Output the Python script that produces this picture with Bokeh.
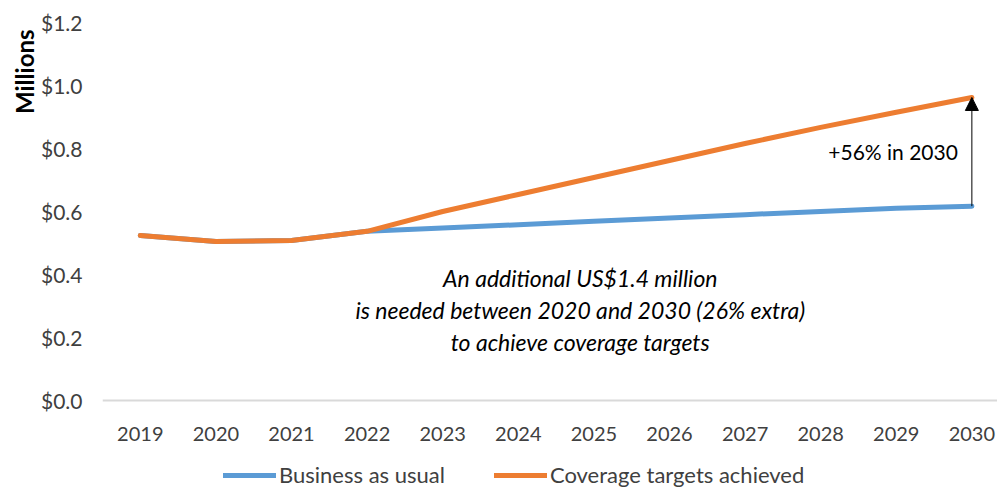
import math
from bokeh.plotting import figure
from bokeh.models import (ColumnDataSource, Legend, LegendItem, Label, Arrow,
                          NormalHead, FixedTicker, Range1d, Title, Span)
from bokeh.core.properties import value
from bokeh.embed import file_html
from bokeh.resources import INLINE

years = [2019, 2020, 2021, 2022, 2023, 2024, 2025, 2026, 2027, 2028, 2029, 2030]
business_as_usual = [0.524, 0.505, 0.508, 0.537, 0.548, 0.558, 0.569, 0.579, 0.590, 0.600, 0.610, 0.617]
coverage_targets = [0.524, 0.505, 0.508, 0.537, 0.600, 0.654, 0.708, 0.762, 0.816, 0.867, 0.915, 0.962]
year_labels = [str(y) for y in years]
y_ticks = [0.0, 0.2, 0.4, 0.6, 0.8, 1.0, 1.2]
y_tick_labels = ["$0.0", "$0.2", "$0.4", "$0.6", "$0.8", "$1.0", "$1.2"]
series_names = ["Business as usual", "Coverage targets achieved"]
annotation_lines = ["An additional US$1.4 million",
                    "is needed between 2020 and 2030 (26% extra)",
                    "to achieve coverage targets"]
increase_label = "+56% in 2030"
axis_title = "Millions"

FONT = "Lato"
BLUE = "#5B9BD5"
ORANGE = "#ED7D31"
GREY_TXT = "#404040"

# frame spans from the top of the value axis down to the bottom of the page,
# so the category labels and the legend sit inside it
Y_MIN = -0.2857
p = figure(frame_width=895, frame_height=468, output_backend="svg", toolbar_location=None,
           x_range=Range1d(2018.5, 2030.339), y_range=Range1d(Y_MIN, 1.2),
           x_axis_location=None,
           min_border_left=102, min_border_right=0, min_border_top=22, min_border_bottom=0)
p.outline_line_color = None
p.background_fill_color = "white"
p.border_fill_color = "white"
p.grid.visible = False

# category axis line at zero
p.add_layout(Span(location=0, dimension="width", line_color="#D9D9D9", line_width=2))

src = ColumnDataSource(dict(year=years, bau=business_as_usual, cov=coverage_targets,
                            lab=year_labels, lab_y=[-0.105] * len(years)))
r1 = p.line("year", "bau", source=src, line_color=BLUE, line_width=5,
            line_cap="round", line_join="round")
r2 = p.line("year", "cov", source=src, line_color=ORANGE, line_width=5,
            line_cap="round", line_join="round")

# category labels
p.text("year", "lab_y", text="lab", source=src, text_align="center", text_baseline="middle",
       text_font=value(FONT), text_font_size="20px", text_color=GREY_TXT)

# y axis
ya = p.yaxis[0]
ya.ticker = FixedTicker(ticks=y_ticks)
ya.major_label_overrides = {t: l for t, l in zip(y_ticks, y_tick_labels)}
ya.axis_line_color = None
ya.major_tick_line_color = None
ya.minor_tick_line_color = None
ya.major_tick_out = 0
ya.major_tick_in = 0
ya.minor_tick_out = 0
ya.major_label_standoff = 20
ya.major_label_text_font = FONT
ya.major_label_text_font_size = "21px"
ya.major_label_text_color = GREY_TXT
ya.axis_label = None
ya.axis_label_standoff = 0

p.add_layout(Title(text=axis_title, align="right", offset=7, standoff=0,
                   text_font=FONT, text_font_size="24px", text_font_style="bold",
                   text_color="black"), "left")

# annotation text
line_ys = [0.390, 0.286, 0.187]
for t, yv in zip(annotation_lines, line_ys):
    p.add_layout(Label(x=2024.82, y=yv, text=t, text_align="center", text_baseline="middle",
                       text_font=FONT, text_font_size="23px", text_font_style="italic",
                       text_color="black"))

# arrow
p.add_layout(Arrow(end=NormalHead(size=13, fill_color="black", line_color="black"),
                   x_start=years[-1], y_start=business_as_usual[-1],
                   x_end=years[-1], y_end=coverage_targets[-1],
                   line_color="black", line_width=1))
p.add_layout(Label(x=years[-1], y=(business_as_usual[-1] + coverage_targets[-1]) / 2,
                   x_offset=-14, text=increase_label, text_align="right",
                   text_baseline="middle", text_font=FONT, text_font_size="21px",
                   text_color="black"))

legend = Legend(items=[LegendItem(label=series_names[0], renderers=[r1]),
                       LegendItem(label=series_names[1], renderers=[r2])],
                orientation="horizontal", location=(121, 2),
                label_text_font=FONT, label_text_font_size="22px",
                label_text_color=GREY_TXT, glyph_width=53, label_standoff=3,
                spacing=49, border_line_color=None, background_fill_alpha=0,
                margin=0, padding=0, label_height=22, glyph_height=22)
p.add_layout(legend, "center")

open("out.html", "w").write(file_html(p, INLINE))
